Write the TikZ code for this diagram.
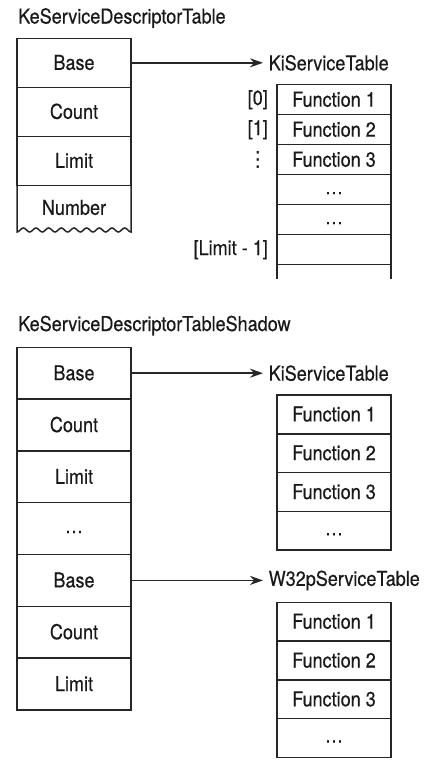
\documentclass[tikz,border=0pt]{standalone}
\usepackage{fontspec}
\setmainfont{TeX Gyre Heros}[FakeStretch=0.88,FakeBold=0.4]
\newfontfamily\symfont{DejaVu Sans}
\usetikzlibrary{arrows.meta,positioning}

\newcommand\celldots{\raisebox{2.5pt}{\dots}}

\begin{document}
\begin{tikzpicture}[x=1pt,y=-1pt,>=Stealth,
  font=\fontsize{20.5}{24}\selectfont,
  every node/.style={text=black!90},
  rule/.style={draw=black!85,line width=1.5pt},
  cell/.style={rule,minimum width=114pt,minimum height=#1,
    text height=14pt,text depth=0pt,inner sep=0pt,outer sep=0pt},
  ptr/.style={rule,-{Stealth[length=13pt,width=9pt]}},
  tname/.style={inner xsep=5.5pt,inner ysep=0pt}]
  \useasboundingbox (0,0) rectangle (428,766);

  % KeServiceDescriptorTable
  \node[anchor=base west,inner sep=0pt] (title) at (18,23.5) {KeServiceDescriptorTable};
  \node[cell=49pt] (d1) at (74,62.8) {Base};
  \node[cell=49pt,below=0pt of d1] (d2) {Count};
  \node[cell=49pt,below=0pt of d2] (d3) {Limit};
  \node[cell=45pt,draw=none,below=0pt of d3] (d4) {Number};
  \draw[rule] (d4.north west) -- plot[domain=0:114,samples=91,smooth]
    ({17+\x},{230+2*cos(\x*28.42)}) -- (d4.north east);

  % KiServiceTable (top)
  \node[right=132pt of d1,tname] (ki1) {KiServiceTable};
  \draw[ptr] (d1) -- (ki1);
  \node[cell=30pt] (k1) at (334,99.7) {Function 1};
  \foreach \t [count=\i from 2,evaluate=\i as \j using int(\i-1)] in
    {Function 2,Function 3,\celldots,\celldots,{}}
    \node[cell=30pt,below=0pt of k\j] (k\i) {\t};
  \draw[rule] (k6.south west) -- ++(0,14.3);
  \draw[rule] (k6.south east) -- ++(0,14.3);
  \node[left=9pt of k1,inner sep=0pt] (i1) {[0]};
  \node[left=9pt of k2,inner sep=0pt] (i2) {[1]};
  \node[inner sep=0pt,font=\symfont\fontsize{21}{21}\selectfont] (i3) at (i2 |- k3) {⋮};
  \node[left=9pt of k6,inner sep=0pt] (i6) {[Limit - 1]};

  % KeServiceDescriptorTableShadow
  \node[anchor=base west,inner sep=0pt] (title2) at (18,331) {KeServiceDescriptorTableShadow};
  \node[cell=51.8pt] (s1) at (74,373.2) {Base};
  \foreach \t [count=\i from 2,evaluate=\i as \j using int(\i-1)] in
    {Count,Limit,\celldots,Base,Count,Limit}
    \node[cell=51.8pt,below=0pt of s\j] (s\i) {\t};

  % KiServiceTable / W32pServiceTable
  \node[right=132pt of s1,tname] (ki2) {KiServiceTable};
  \node[right=132pt of s5,tname] (w32) {W32pServiceTable};
  \draw[ptr] (s1) -- (ki2);
  \draw[ptr] (s5) -- (w32);
  \node[cell=38.8pt] (f1) at (334,414.4) {Function 1};
  \node[cell=38.8pt] (g1) at (334,621.7) {Function 1};
  \foreach \t [count=\i from 2,evaluate=\i as \j using int(\i-1)] in
    {Function 2,Function 3,\celldots}{
    \node[cell=38.8pt,below=0pt of f\j] (f\i) {\t};
    \node[cell=38.8pt,below=0pt of g\j] (g\i) {\t};
  }
\end{tikzpicture}
\end{document}
